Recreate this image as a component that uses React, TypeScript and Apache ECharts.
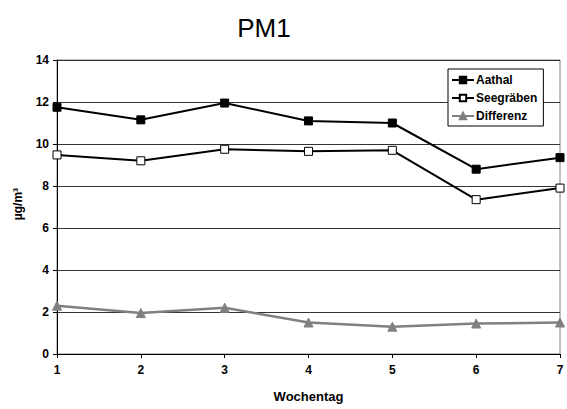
import React, { useEffect, useRef } from "react";
import * as echarts from "echarts";

const days = ["1", "2", "3", "4", "5", "6", "7"];
const aathal = [11.75, 11.15, 11.95, 11.1, 11.0, 8.8, 9.35];
const seegraeben = [9.48, 9.2, 9.75, 9.65, 9.7, 7.35, 7.9];
const differenz = [2.3, 1.95, 2.2, 1.5, 1.3, 1.45, 1.5];

const FONT = "Liberation Sans, Arial, sans-serif";

export default function App() {
  const ref = useRef<HTMLDivElement>(null);
  useEffect(() => {
    if (!ref.current) return;
    const chart = echarts.init(ref.current, undefined, { renderer: "svg" });
    chart.setOption({
      animation: false,
      backgroundColor: "#fff",
      textStyle: { fontFamily: FONT },
      title: {
        text: "PM1",
        left: 259,
        top: 10,
        textAlign: "center",
        textStyle: { fontFamily: FONT, fontSize: 26, fontWeight: "normal", color: "#000" },
      },
      grid: {
        left: 57,
        right: 7,
        top: 60,
        bottom: 55,
        show: true,
        borderColor: "#808080",
        borderWidth: 1,
        backgroundColor: "transparent",
      },
      legend: {
        orient: "vertical",
        left: 448,
        top: 69,
        backgroundColor: "#fff",
        borderColor: "#000",
        borderWidth: 1,
        borderRadius: 0,
        padding: [4, 6, 3, 3],
        itemGap: 4,
        itemWidth: 22,
        itemHeight: 8,
        textStyle: { fontFamily: FONT, fontSize: 12, fontWeight: "bold", color: "#000", lineHeight: 14, padding: [0, 0, 0, -3] },
        data: ["Aathal", "Seegräben", "Differenz"],
      },
      xAxis: {
        type: "category",
        data: days,
        boundaryGap: false,
        name: "Wochentag",
        nameLocation: "middle",
        nameGap: 36,
        nameTextStyle: { fontFamily: FONT, fontSize: 13, fontWeight: "bold", color: "#000" },
        axisLine: { show: true, lineStyle: { color: "#000", width: 1 } },
        axisTick: { show: true, length: 4, inside: false, lineStyle: { color: "#000" }, alignWithLabel: true },
        axisLabel: { fontFamily: FONT, fontSize: 12, fontWeight: "bold", color: "#000", margin: 10 },
        splitLine: { show: false },
      },
      yAxis: {
        type: "value",
        min: 0,
        max: 14,
        interval: 2,
        axisLine: { show: true, lineStyle: { color: "#000", width: 1 } },
        axisTick: { show: true, length: 4, lineStyle: { color: "#000" } },
        axisLabel: { fontFamily: FONT, fontSize: 12, fontWeight: "bold", color: "#000", margin: 8 },
        splitLine: { show: true, lineStyle: { color: "#333", width: 1 } },
      },
      graphic: [
        {
          type: "text",
          x: 18,
          y: 204,
          rotation: Math.PI / 2,
          style: {
            text: "µg/m³",
            fontFamily: FONT,
            fontSize: 12,
            fontWeight: "bold",
            fill: "#000",
            align: "center",
            verticalAlign: "middle",
          },
        },
      ],
      series: [
        {
          name: "Aathal",
          type: "line",
          data: aathal,
          symbol: "rect",
          symbolSize: 8,
          lineStyle: { color: "#000", width: 2 },
          itemStyle: { color: "#000", borderColor: "#000", borderWidth: 1 },
          z: 3,
        },
        {
          name: "Seegräben",
          type: "line",
          data: seegraeben,
          symbol: "rect",
          symbolSize: 8,
          lineStyle: { color: "#000", width: 2 },
          itemStyle: { color: "#fff", borderColor: "#000", borderWidth: 1 },
          z: 3,
        },
        {
          name: "Differenz",
          type: "line",
          data: differenz,
          symbol: "triangle",
          symbolSize: 9,
          lineStyle: { color: "#808080", width: 2.5 },
          itemStyle: { color: "#808080", borderColor: "#808080", borderWidth: 1 },
          z: 3,
        },
      ],
    });
    return () => chart.dispose();
  }, []);
  return <div ref={ref} style={{ width: 567, height: 409, position: "absolute", left: 0, top: 0 }} />;
}
